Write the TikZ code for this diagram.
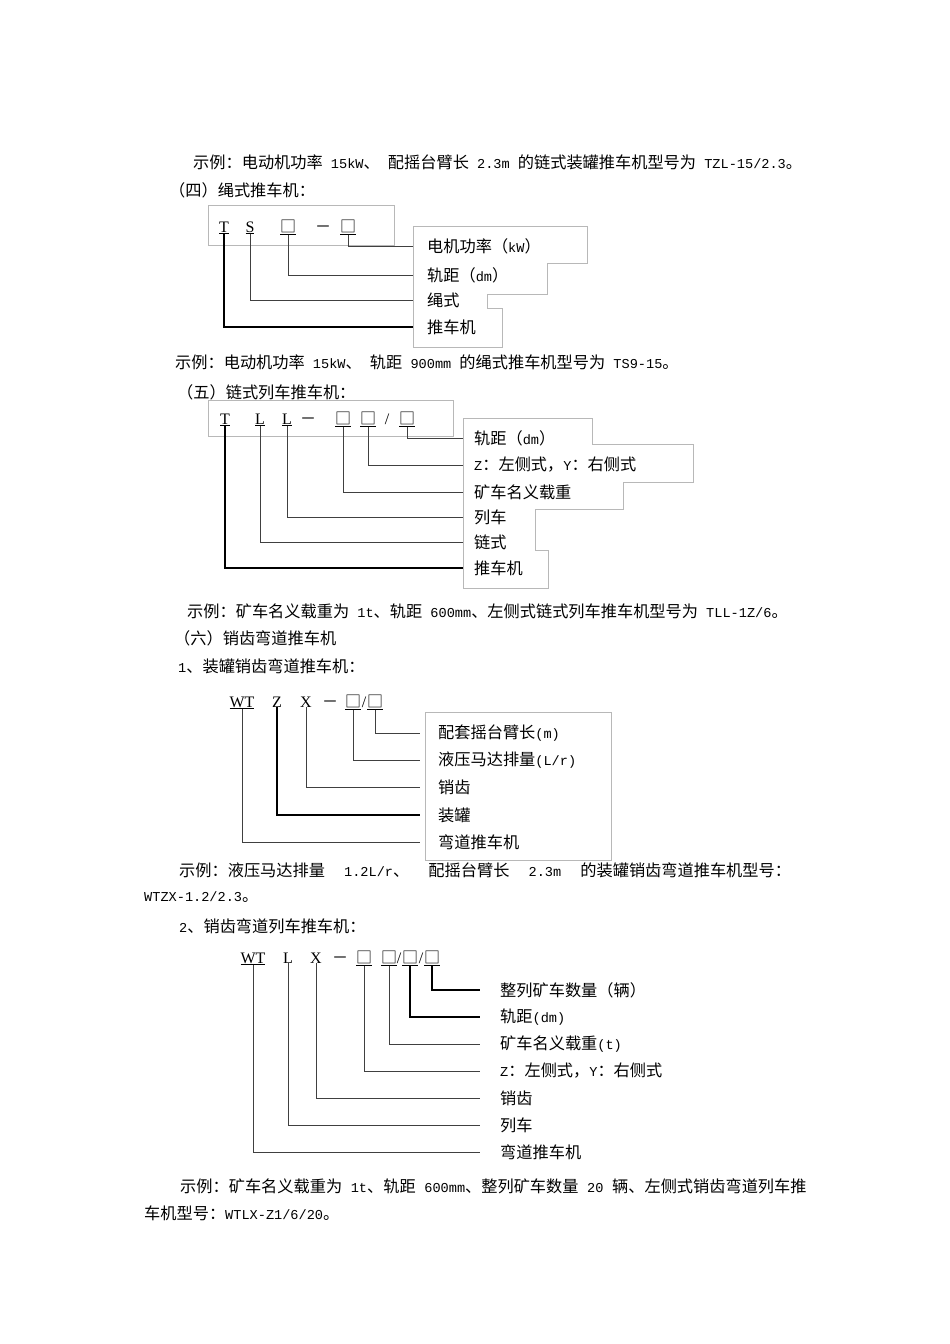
\documentclass[tikz,border=0pt]{standalone}
\usepackage{fontspec}
\setmainfont{Liberation Serif}
\newfontfamily\cjk{Noto Sans CJK SC}
\newfontfamily\latmono{Liberation Mono}
\newcommand{\bx}{{\cjk □}}
\newcommand{\lt}[1]{{\latmono\fontsize{13.6}{18}\selectfont #1}}
\newcommand{\hgap}{\hspace{8pt plus 1fil}}
\begin{document}
\begin{tikzpicture}[x=1pt,y=-1pt,
  body/.style={anchor=west,inner sep=0pt,font=\cjk\fontsize{16.2}{18}\selectfont},
  code/.style={anchor=base,inner sep=0pt,font=\fontsize{16}{18}\selectfont},
  lbl/.style={anchor=west,inner ysep=0pt,font=\cjk\fontsize{16.2}{18}\selectfont},
  lead/.style={draw=black!75,line width=1pt},
  leadthick/.style={draw=black,line width=2pt},
  frame/.style={draw=black!28,line width=0.7pt}]
\fill[white] (0,0) rectangle (950,1344);
\useasboundingbox (0,0) rectangle (950,1344);

% ---------- body text ----------
\node[body] (t1) at (193,162) {示例：电动机功率\lt{ 15kW}、\lt{ }配摇台臂长\lt{ 2.3m }的链式装罐推车机型号为\lt{ TZL-15/2.3}。};
\node[body] (t2) at (169,190) {（四）绳式推车机：};
\node[body] (t3) at (175,362) {示例：电动机功率\lt{ 15kW}、\lt{ }轨距\lt{ 900mm }的绳式推车机型号为\lt{ TS9-15}。};
\node[body] (t4) at (177,392) {（五）链式列车推车机：};
\node[body] (t5) at (187,611) {示例：矿车名义载重为\lt{ 1t}、轨距\lt{ 600mm}、左侧式链式列车推车机型号为\lt{ TLL-1Z/6}。};
\node[body] (t6) at (174,638) {（六）销齿弯道推车机};
\node[body] (t7) at (178,666) {\lt{1}、装罐销齿弯道推车机：};
\node[body] (t8) at (179,870) {\makebox[623pt][l]{示例：液压马达排量\hgap\lt{1.2L/r}、\hgap 配摇台臂长\hgap\lt{2.3m}\hgap 的装罐销齿弯道推车机型号：}};
\node[body] (t9) at (144,897) {\lt{WTZX-1.2/2.3}。};
\node[body] (t10) at (179,926) {\lt{2}、销齿弯道列车推车机：};
\node[body] (t11) at (180,1186) {\makebox[627pt][l]{示例：矿车名义载重为\hgap\lt{1t}、轨距\hgap\lt{600mm}、整列矿车数量\hgap\lt{20}\hgap 辆、左侧式销齿弯道列车推}};
\node[body] (t12) at (144,1213) {车机型号：\lt{WTLX-Z1/6/20}。};

% ---------- (四) 绳式推车机 ----------
\draw[frame] (208,205) rectangle (394,245);
\node[code] (aT) at (224,232) {\underline{T}};
\node[code] (aS) at (250,232) {\underline{S}};
\node[code] (a1) at (288,232) {\underline{\bx}};
\node[code] (ad) at (323,232) {\cjk －};
\node[code] (a2) at (348,232) {\underline{\bx}};
\draw[frame] (413,226) -- (587,226) -- (587,263) -- (547,263) -- (547,294) -- (487,294)
  -- (487,308) -- (502,308) -- (502,347) -- (413,347) -- cycle;
\node[lbl,inner xsep=14pt] (al1) at (413,246) {电机功率（\lt{kW}）};
\node[lbl,inner xsep=14pt] (al2) at (413,275) {轨距（\lt{dm}）};
\node[lbl,inner xsep=14pt] (al3) at (413,300) {绳式};
\node[lbl,inner xsep=14pt] (al4) at (413,327) {推车机};
\draw[lead] (a2.south) |- (al1.west);
\draw[lead] (a1.south) |- (al2.west);
\draw[lead] (aS.south) |- (al3.west);
\draw[leadthick] (aT.south) |- (al4.west);

% ---------- (五) 链式列车推车机 ----------
\draw[frame] (208,400) rectangle (453,436);
\node[code] (bT) at (225,424) {\underline{T}};
\node[code] (bL1) at (260,424) {\underline{L}};
\node[code] (bL2) at (287,424) {\underline{L}};
\node[code] (bd) at (308,424) {\cjk －};
\node[code] (b1) at (343,424) {\underline{\bx}};
\node[code] (b2) at (368,424) {\underline{\bx}};
\node[code] (bs) at (387,424) {/};
\node[code] (b3) at (407,424) {\underline{\bx}};
\draw[frame] (463,418) -- (592,418) -- (592,444) -- (693,444) -- (693,482) -- (623,482)
  -- (623,509) -- (535,509) -- (535,550) -- (548,550) -- (548,588) -- (463,588) -- cycle;
\node[lbl,inner xsep=11pt] (bl1) at (463,438) {轨距（\lt{dm}）};
\node[lbl,inner xsep=11pt] (bl2) at (463,465) {\lt{Z}：左侧式，\lt{Y}：右侧式};
\node[lbl,inner xsep=11pt] (bl3) at (463,492) {矿车名义载重};
\node[lbl,inner xsep=11pt] (bl4) at (463,517) {列车};
\node[lbl,inner xsep=11pt] (bl5) at (463,542) {链式};
\node[lbl,inner xsep=11pt] (bl6) at (463,568) {推车机};
\draw[lead] (b3.south) |- (bl1.west);
\draw[lead] (b2.south) |- (bl2.west);
\draw[lead] (b1.south) |- (bl3.west);
\draw[lead] (bL2.south) |- (bl4.west);
\draw[lead] (bL1.south) |- (bl5.west);
\draw[leadthick] (bT.south) |- (bl6.west);

% ---------- 1、装罐销齿弯道推车机 ----------
\node[code] (cW) at (242,707) {\underline{WT}};
\node[code] (cZ) at (277,707) {Z};
\node[code] (cX) at (306,707) {X};
\node[code] (cd) at (330,707) {\cjk －};
\node[code] (c1) at (353,707) {\underline{\bx}};
\node[code] (cs) at (364,707) {/};
\node[code] (c2) at (375,707) {\underline{\bx}};
\draw[frame] (425,712) rectangle (611,860);
\node[lbl,inner xsep=18pt] (cl1) at (420,733) {配套摇台臂长\lt{(m)}};
\node[lbl,inner xsep=18pt] (cl2) at (420,760) {液压马达排量\lt{(L/r)}};
\node[lbl,inner xsep=18pt] (cl3) at (420,787) {销齿};
\node[lbl,inner xsep=18pt] (cl4) at (420,815) {装罐};
\node[lbl,inner xsep=18pt] (cl5) at (420,842) {弯道推车机};
\draw[lead] (c2.south) |- (cl1.west);
\draw[lead] (c1.south) |- (cl2.west);
\draw[lead] (cX.south) |- (cl3.west);
\draw[leadthick] (cZ.south) |- (cl4.west);
\draw[lead] (cW.south) |- (cl5.west);

% ---------- 2、销齿弯道列车推车机 ----------
\node[code] (dW) at (253,963) {\underline{WT}};
\node[code] (dL) at (288,963) {L};
\node[code] (dX) at (316,963) {X};
\node[code] (dd) at (340,963) {\cjk －};
\node[code] (d1) at (364,963) {\underline{\bx}};
\node[code] (d2) at (389,963) {\underline{\bx}};
\node[code] (ds1) at (399,963) {/};
\node[code] (d3) at (410,963) {\underline{\bx}};
\node[code] (ds2) at (421,963) {/};
\node[code] (d4) at (432,963) {\underline{\bx}};
\node[lbl,inner xsep=20pt] (dl1) at (480,990) {整列矿车数量（辆）};
\node[lbl,inner xsep=20pt] (dl2) at (480,1017) {轨距\lt{(dm)}};
\node[lbl,inner xsep=20pt] (dl3) at (480,1044) {矿车名义载重\lt{(t)}};
\node[lbl,inner xsep=20pt] (dl4) at (480,1071) {\lt{Z}：左侧式，\lt{Y}：右侧式};
\node[lbl,inner xsep=20pt] (dl5) at (480,1098) {销齿};
\node[lbl,inner xsep=20pt] (dl6) at (480,1125) {列车};
\node[lbl,inner xsep=20pt] (dl7) at (480,1152) {弯道推车机};
\draw[leadthick] (d4.south) |- (dl1.west);
\draw[leadthick] (d3.south) |- (dl2.west);
\draw[lead] (d2.south) |- (dl3.west);
\draw[lead] (d1.south) |- (dl4.west);
\draw[lead] (dX.south) |- (dl5.west);
\draw[lead] (dL.south) |- (dl6.west);
\draw[lead] (dW.south) |- (dl7.west);
\end{tikzpicture}
\end{document}
